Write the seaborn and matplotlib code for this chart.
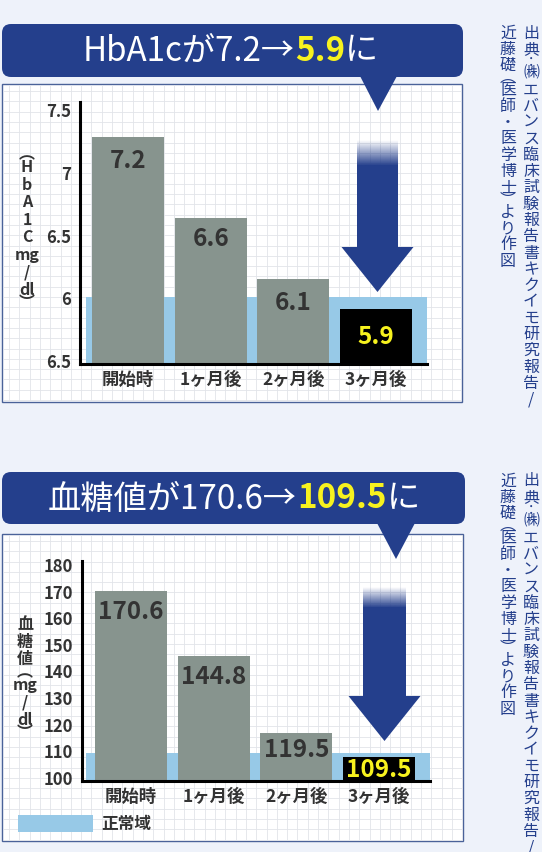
import numpy as np
import pandas as pd
import matplotlib.pyplot as plt
import seaborn as sns
from matplotlib.colors import to_rgb
from matplotlib.patches import FancyBboxPatch, Polygon, Rectangle

# データ
months = ['開始時', '1ヶ月後', '2ヶ月後', '3ヶ月後']

hba1c = [7.28, 6.63, 6.145, 5.906]           # 棒の高さ
hba1c_text = ['7.2', '6.6', '6.1', '5.9']    # 棒の中の数値
hba1c_ticks = [5.5, 6.0, 6.5, 7.0, 7.5]
hba1c_ticklabels = ['6.5', '6', '6.5', '7', '7.5']   # 元図のまま
hba1c_normal = 6.0
hba1c_ylabel = ['︵', 'H', 'b', 'A', '1', 'C', 'mg', '/', 'dl', '︶']

glucose = [170.0, 145.3, 116.5, 107.6]
glucose_text = ['170.6', '144.8', '119.5', '109.5']
glucose_ticks = [100, 110, 120, 130, 140, 150, 160, 170, 180]
glucose_ticklabels = [str(t) for t in glucose_ticks]
glucose_normal = 109.0
glucose_ylabel = ['血', '糖', '値', '︵', 'mg', '/', 'dl', '︶']

source1 = list('出典:㈱エバンス臨床試験報告書キクイモ研究報告/')
source2 = list('近藤礎︵医師・医学博士︶より作図')

NAVY = '#243f8c'
GRAY = '#87948e'
BAND = '#97c9e7'
BG = '#eef2fa'
YELLOW = '#f7f21e'
TXT = '#333333'

sns.set_theme(style='white')
plt.rcParams['font.family'] = ['Noto Sans CJK JP', 'DejaVu Sans']

W, H = 542, 853
fig = plt.figure(figsize=(W / 100, H / 100), dpi=100, facecolor=BG)
base = fig.add_axes([0, 0, 1, 1], zorder=0)
base.set_facecolor(BG)


def px_axes(x0, y0, x1, y1):
    return fig.add_axes([x0 / W, 1 - y1 / H, (x1 - x0) / W, (y1 - y0) / H], zorder=1)


def panel(x0, y0, x1, y1):
    base.add_patch(Rectangle((x0, y0), x1 - x0, y1 - y0, facecolor='white',
                             edgecolor='#4a6299', lw=1, zorder=1))
    base.vlines(np.arange(x0 + 7, x1, 10.3), y0 + 1, y1 - 1, color='#e2e4e9', lw=0.6, zorder=1.1)
    base.hlines(np.arange(y0 + 7, y1, 10.3), x0 + 1, x1 - 1, color='#e2e4e9', lw=0.6, zorder=1.1)


def banner(x0, y0, x1, y1, tri):
    base.add_patch(FancyBboxPatch((x0, y0), x1 - x0, y1 - y0,
                                  boxstyle='round,pad=0,rounding_size=9',
                                  facecolor=NAVY, lw=0, zorder=2))
    base.add_patch(Polygon(tri, closed=True, facecolor=NAVY, lw=0, zorder=2))


def rich_text(parts, x0, x1, yc, size):
    r = fig.canvas.get_renderer()
    ts = [base.text(0, yc, s, color=c, fontsize=size, fontweight=w,
                    ha='left', va='center', zorder=3) for s, c, w in parts]
    widths = [t.get_window_extent(r).width for t in ts]
    scale = (x1 - x0) / sum(widths)
    x = x0
    for t in ts:
        t.set_fontsize(size * scale)
        t.set_x(x)
        x += t.get_window_extent(r).width


def vtext(x, y0, chars, step, **kw):
    y = y0
    prev = None
    for ch in chars:
        w = 0.5 if ch in '︵︶:' else 1.0
        if prev is not None:
            y += step * (prev + w) / 2
        base.text(x, y, ch, ha='center', va='center', zorder=3, **kw)
        prev = w


def arrow(xc, sw, f0, f1, yh, hw, tip):
    base.add_patch(Polygon([(xc - sw / 2, f1), (xc + sw / 2, f1), (xc + sw / 2, yh),
                            (xc + hw / 2, yh), (xc, tip), (xc - hw / 2, yh),
                            (xc - sw / 2, yh)], closed=True, facecolor=NAVY, lw=0, zorder=2))
    grad = np.zeros((60, 1, 4))
    grad[..., :3] = to_rgb(NAVY)
    grad[:, 0, 3] = np.linspace(0, 1, 60)
    base.imshow(grad, extent=(xc - sw / 2, xc + sw / 2, f1 + 0.5, f0),
                aspect='auto', origin='upper', zorder=2, interpolation='bilinear')


def chart(rect, heights, texts, ticks, ticklabels, normal, ylim, xlim, band_x, offsets):
    ax = px_axes(*rect)
    ax.patch.set_alpha(0)
    df = pd.DataFrame({'month': months, 'value': heights})
    sns.barplot(data=df, x='month', y='value', hue='month',
                palette=[GRAY, GRAY, GRAY, 'black'], width=0.87, saturation=1,
                legend=False, ax=ax, linewidth=0, zorder=2)
    ax.axhspan(ylim[0], normal, xmin=band_x, xmax=1, color=BAND, lw=0, zorder=1)
    ax.set_xlim(*xlim)
    ax.set_ylim(*ylim)
    ax.set_xlabel('')
    ax.set_ylabel('')
    ax.set_yticks(ticks, ticklabels)
    ax.set_xticks(range(len(months)), months)
    ax.tick_params(axis='y', length=0, pad=6.5, labelsize=12, labelcolor=TXT)
    ax.tick_params(axis='x', length=0, pad=4, labelsize=12.5, labelcolor=TXT)
    for lbl in ax.get_xticklabels() + ax.get_yticklabels():
        lbl.set_fontweight('bold')
    for s in ['top', 'right']:
        ax.spines[s].set_visible(False)
    for s in ['left', 'bottom']:
        ax.spines[s].set_color('black')
        ax.spines[s].set_linewidth(2.2)
    for i, (h, t) in enumerate(zip(heights, texts)):
        last = i == len(heights) - 1
        ax.annotate(t, (i, h), xytext=(0, -offsets[i]), textcoords='offset pixels',
                    ha='center', va='center', fontsize=17.5, fontweight='bold',
                    color=YELLOW if last else TXT, zorder=3)
    return ax


# ---- 上: HbA1c ----
panel(2, 85, 462, 403)
banner(2, 25, 463, 78, [(360, 77), (397, 77), (378, 112)])
rich_text([('HbA1cが7.2→', 'white', 'normal'), ('5.9', YELLOW, 'bold'), ('に', 'white', 'normal')],
          83, 378, 51, 22)
arrow(377.5, 41, 141, 166, 248, 72, 293)
chart((80, 103, 427, 365), hba1c, hba1c_text, hba1c_ticks, hba1c_ticklabels,
      hba1c_normal, (5.468, 7.556), (-0.58, 3.617), 0.017, [23, 20, 23, 27])
vtext(27, 154, hba1c_ylabel, 17.5, fontsize=11.5, fontweight='bold', color=TXT)
vtext(531, 33, source1, 16.3, fontsize=11.5, color=NAVY)
vtext(508, 33, source2, 16.3, fontsize=11.5, color=NAVY)

# ---- 下: 血糖値 ----
panel(2, 535, 463, 842)
banner(2, 473, 465, 525, [(377, 524), (415, 524), (396, 560)])
rich_text([('血糖値が170.6→', 'white', 'normal'), ('109.5', YELLOW, 'bold'), ('に', 'white', 'normal')],
          48, 420, 499, 24)
arrow(384.5, 43, 588, 608, 697, 72, 742)
chart((82, 562, 430, 782), glucose, glucose_text, glucose_ticks, glucose_ticklabels,
      glucose_normal, (98.5, 181.1), (-0.593, 3.617), 0.0115, [20, 20, 16, 12])
vtext(25, 624, glucose_ylabel, 17.5, fontsize=11.5, fontweight='bold', color=TXT)
vtext(531, 481, source1, 16.3, fontsize=11.5, color=NAVY)
vtext(508, 481, source2, 16.3, fontsize=11.5, color=NAVY)

# 凡例
base.add_patch(Rectangle((18, 816), 75, 17, facecolor=BAND, lw=0, zorder=2))
base.text(101, 824.5, '正常域', ha='left', va='center', fontsize=12, fontweight='bold',
          color=TXT, zorder=3)

base.set_xlim(0, W)
base.set_ylim(H, 0)
base.axis('off')

fig.savefig('out.png', dpi=100, facecolor=BG)
